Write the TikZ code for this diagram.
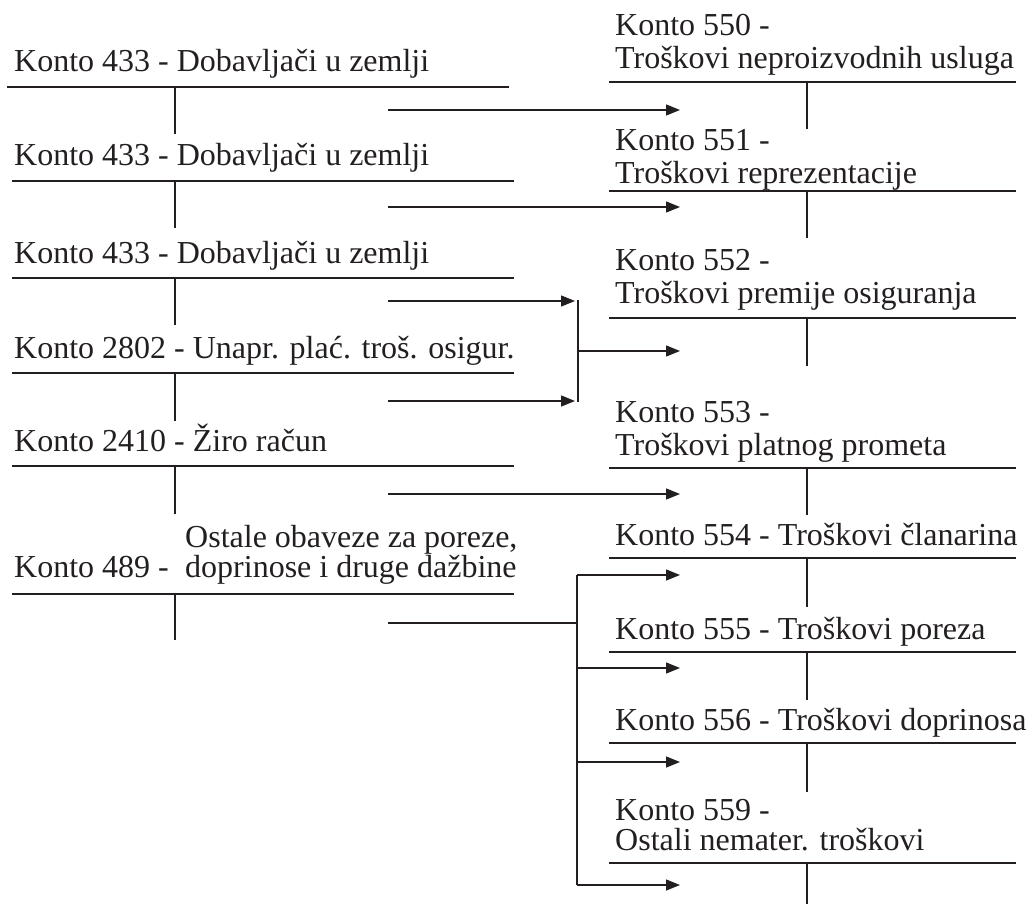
\documentclass[tikz,border=0pt]{standalone}
\usepackage{fontspec}
\setmainfont{Liberation Serif}
\usetikzlibrary{arrows.meta}
\definecolor{inkc}{HTML}{231F20}
\begin{document}
\begin{tikzpicture}[x=1pt,y=-1pt,
  ink/.style={line width=1.4pt, draw=inkc},
  lbl/.style={anchor=base west, inner sep=0pt, text=inkc,
              font=\fontsize{32}{33}\selectfont},
  flow/.style={ink, -{Triangle[length=14pt,width=11pt]}},
]
\useasboundingbox (0,0) rectangle (1032,904);

% ---------- left-hand T-accounts ----------
\node[lbl] (l1) at (14,72)  {Konto 433 - Dobavljači u zemlji};
\draw[ink] (7,87) -- (509,87) (175,87) -- (175,134);

\node[lbl] (l2) at (14,166) {Konto 433 - Dobavljači u zemlji};
\draw[ink] (12,181) -- (514,181) (175,181) -- (175,228);

\node[lbl] (l3) at (14,263) {Konto 433 - Dobavljači u zemlji};
\draw[ink] (12,278) -- (514,278) (175,278) -- (175,325);

\node[lbl] (l4) at (14,358) {Konto 2802 - Unapr. plać. troš. osigur.};
\draw[ink] (12,373) -- (514,373) (175,373) -- (175,421);

\node[lbl] (l5) at (14,451) {Konto 2410 - Žiro račun};
\draw[ink] (12,466) -- (514,466) (175,466) -- (175,514);

\node[lbl] (l6a) at (185,547) {Ostale obaveze za poreze,};
\node[lbl] (l6)  at (14,577)  {Konto 489 -};
\node[lbl] (l6b) at (185,577) {doprinose i druge dažbine};
\draw[ink] (12,594) -- (514,594) (175,594) -- (175,640);

% ---------- right-hand T-accounts ----------
\node[lbl] (r0a) at (615,36)  {Konto 550 -};
\node[lbl] (r0b) at (615,69)  {Troškovi neproizvodnih usluga};
\draw[ink] (609,82) -- (1016,82) (807,82) -- (807,129);

\node[lbl] (r1a) at (615,151) {Konto 551 -};
\node[lbl] (r1b) at (615,183) {Troškovi reprezentacije};
\draw[ink] (609,191) -- (1016,191) (807,191) -- (807,238);

\node[lbl] (r2a) at (615,270) {Konto 552 -};
\node[lbl] (r2b) at (615,303) {Troškovi premije osiguranja};
\draw[ink] (609,318) -- (1016,318) (807,318) -- (807,366);

\node[lbl] (r3a) at (615,422) {Konto 553 -};
\node[lbl] (r3b) at (615,455) {Troškovi platnog prometa};
\draw[ink] (609,468) -- (1016,468) (807,468) -- (807,515);

\node[lbl] (r4) at (615,545) {Konto 554 - Troškovi članarina};
\draw[ink] (609,558) -- (1016,558) (807,558) -- (807,607);

\node[lbl] (r5) at (615,639) {Konto 555 - Troškovi poreza};
\draw[ink] (609,652) -- (1016,652) (807,652) -- (807,700);

\node[lbl] (r6) at (615,730) {Konto 556 - Troškovi doprinosa};
\draw[ink] (609,743) -- (1016,743) (807,743) -- (807,792);

\node[lbl] (r7a) at (615,820) {Konto 559 -};
\node[lbl] (r7b) at (615,850) {Ostali nemater. troškovi};
\draw[ink] (609,863) -- (1016,863) (807,863) -- (807,904);

% ---------- postings ----------
\coordinate (s1) at (388,110); \coordinate (t1) at (680,110);
\coordinate (s2) at (388,207); \coordinate (t2) at (680,207);
\coordinate (s3) at (388,301); \coordinate (j3) at (575,301);
\coordinate (s4) at (388,401); \coordinate (j4) at (575,401);
\coordinate (bt) at (578,300); \coordinate (bb) at (578,402);
\coordinate (bm) at (578,351); \coordinate (t34) at (680,351);
\coordinate (s5) at (388,494); \coordinate (t5) at (680,494);

\draw[flow] (s1) -- (t1);
\draw[flow] (s2) -- (t2);
\draw[flow] (s3) -- (j3);
\draw[flow] (s4) -- (j4);
\draw[ink] (bt) -- (bb);
\draw[flow] (bm) -- (t34);
\draw[flow] (s5) -- (t5);

% split of account 489 into four expense accounts
\coordinate (s6) at (388,623);  \coordinate (k6) at (577,623);
\coordinate (ka) at (577,575);  \coordinate (ta) at (680,575);
\coordinate (kb) at (577,668);  \coordinate (tb) at (680,668);
\coordinate (kc) at (577,762);  \coordinate (tc) at (680,762);
\coordinate (kd) at (577,885);  \coordinate (td) at (680,885);

\draw[ink] (s6) -- (k6);
\draw[ink] (ka) -- (kd);
\draw[flow] (ka) -- (ta);
\draw[flow] (kb) -- (tb);
\draw[flow] (kc) -- (tc);
\draw[flow] (kd) -- (td);
\end{tikzpicture}
\end{document}
